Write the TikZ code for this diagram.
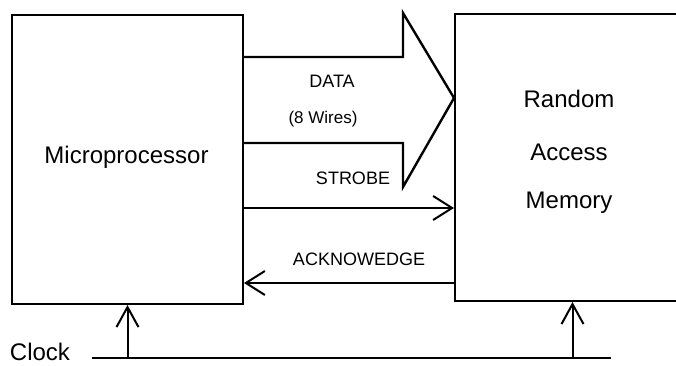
\documentclass[tikz,border=0pt]{standalone}
\usepackage{fontspec}
\setmainfont{Liberation Sans}
\usetikzlibrary{arrows.meta}
\begin{document}
\begin{tikzpicture}[x=1pt,y=1pt,
  box/.style={draw, line width=2pt, inner sep=0pt},
  wire/.style={line width=2pt},
  bus/.style={line width=2.4pt, line join=miter},
  bigtxt/.style={font=\fontsize{24}{27}\selectfont, anchor=base, inner sep=0pt},
  smalltxt/.style={font=\fontsize{18}{21}\selectfont, anchor=base, inner sep=0pt},
  htip/.style={-{Straight Barb[length=19pt,width=24pt]}},
  vtip/.style={-{Straight Barb[length=20pt,width=22pt]}}
]
\useasboundingbox (0,0) rectangle (676,366);
\clip (0,0) rectangle (676,366);
\node[box, minimum width=231pt, minimum height=289pt] (micro) at (127.5,206.5) {};
\node[box, minimum width=235pt, minimum height=287pt] (ram) at (572.5,208.5) {};
\node[bigtxt] (mtxt) at (126.5,202.7) {Microprocessor};
\node[bigtxt] (r1) at (569,258) {Random};
\node[bigtxt] (r2) at (569,205) {Access};
\node[bigtxt] (r3) at (569,157) {Memory};
% data bus arrow
\coordinate (busT) at (403,309);
\coordinate (busB) at (403,223);
\coordinate (headT) at (403,353);
\coordinate (headB) at (403,179);
\coordinate (tipy) at (0,268);
\draw[bus] (micro.east |- busT) -- (busT) -- (headT) -- (ram.west |- tipy) -- (headB) -- (busB) -- (micro.east |- busB);
\node[smalltxt] (data) at (332,278.7) {DATA};
\node[smalltxt, font=\fontsize{17}{20}\selectfont] (wires) at (323,242) {(8 Wires)};
\node[smalltxt] (strobe) at (353,181) {STROBE};
\node[smalltxt] (ack) at (359,100) {ACKNOWEDGE};
% strobe and acknowledge
\coordinate (sy) at (0,158);
\coordinate (ay) at (0,83);
\draw[wire, htip] (micro.east |- sy) -- (ram.west |- sy);
\draw[wire, htip] (ram.west |- ay) -- (micro.east |- ay);
% clock
\coordinate (ckL) at (92,8);
\coordinate (ckR) at (611,8);
\node[bigtxt] (clk) at (40,5.5) {Clock};
\draw[wire] (ckL) -- (ckR);
\draw[wire, vtip] (ckL -| micro.south) -- (micro.south);
\draw[wire, vtip] (ckL -| ram.south) -- (ram.south);
\end{tikzpicture}
\end{document}
